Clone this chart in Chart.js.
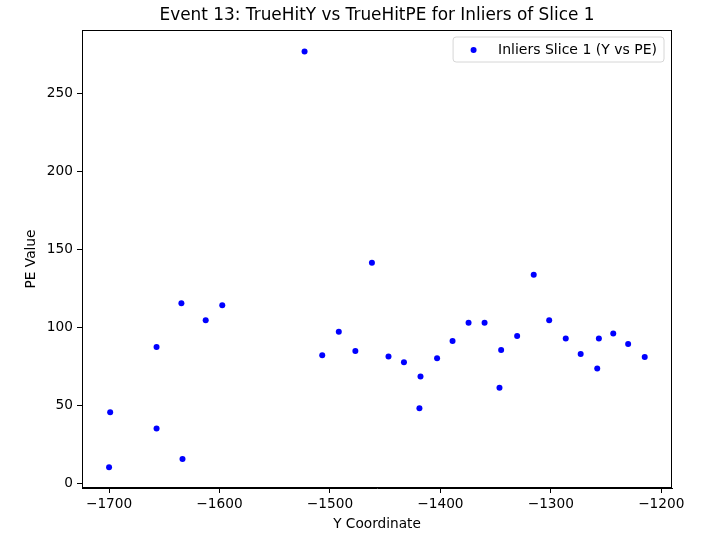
<!DOCTYPE html>
<html>
<head>
<meta charset="utf-8">
<script src="https://cdn.jsdelivr.net/npm/chart.js@4"></script>
<style>
  html, body { margin: 0; padding: 0; background: #fff; }
  #wrap { width: 706px; height: 535px; }
</style>
</head>
<body>
<div id="wrap"><canvas id="peChart" width="706" height="535"></canvas></div>
<script>
// TrueHitY (x) and TrueHitPE (y) for the inliers of slice 1
const hitY = [
    -1700, -1699, -1657, -1657, -1634.5, -1633.5, -1612.5, -1597.5,
    -1523, -1507, -1492, -1477, -1462,
    -1447, -1433, -1418, -1419, -1403, -1389, -1374.5, -1360,
    -1345, -1346.5, -1330.5, -1315.5, -1301.5, -1286.5, -1273,
    -1258, -1256.5, -1243.5, -1230, -1215
];
const hitPE = [
    10.6, 45.8, 87.6, 35.5, 115.7, 15.9, 104.7, 114.3,
    276.7, 82.3, 97.4, 85, 141.6,
    81.6, 77.8, 68.8, 48.5, 80.5, 91.4, 103.2, 103.2,
    85.7, 61.6, 94.6, 133.9, 104.7, 93, 83.1,
    73.9, 93, 96.2, 89.5, 81.2
];
const xTicks = [-1700, -1600, -1500, -1400, -1300, -1200];
const yTicks = [0, 50, 100, 150, 200, 250];

const TITLE = 'Event 13: TrueHitY vs TrueHitPE for Inliers of Slice 1';
const FONT = 'DejaVu Sans, sans-serif';
const minus = v => String(v).replace('-', '\u2212');

// title over the plot area, axes frame, legend box in the top right corner
const framePlugin = {
    id: 'frame',
    afterDraw(chart) {
        const { ctx, chartArea: a } = chart;
        ctx.save();
        ctx.fillStyle = '#000';
        ctx.font = '16.9px ' + FONT;
        ctx.textAlign = 'center';
        ctx.textBaseline = 'middle';
        ctx.fillText(TITLE, (a.left + a.right) / 2, 16);

        ctx.strokeStyle = '#000';
        ctx.lineWidth = 1;
        ctx.strokeRect(a.left + 0.5, a.top + 0.5, a.right - a.left - 1, a.bottom - a.top - 1);

        const label = chart.data.datasets[0].label;
        ctx.font = '14px ' + FONT;
        ctx.textAlign = 'left';
        const tw = ctx.measureText(label).width;
        const bx2 = a.right - 8, by = a.top + 7, bh = 25;
        const bx = bx2 - tw - 52;
        ctx.beginPath();
        ctx.roundRect(bx, by, bx2 - bx, bh, 3);
        ctx.fillStyle = 'rgba(255,255,255,0.8)';
        ctx.fill();
        ctx.strokeStyle = '#d6d6d6';
        ctx.stroke();
        ctx.beginPath();
        ctx.arc(bx + 20.5, by + 13, 3, 0, Math.PI * 2);
        ctx.fillStyle = 'blue';
        ctx.fill();
        ctx.fillStyle = '#000';
        ctx.fillText(label, bx + 45, by + 13);
        ctx.restore();
    }
};

const ctx = document.getElementById('peChart');
new Chart(ctx, {
    type: 'scatter',
    data: {
        datasets: [{
            label: 'Inliers Slice 1 (Y vs PE)',
            data: hitY.map((y, i) => ({ x: y, y: hitPE[i] })),
            backgroundColor: 'blue',
            borderWidth: 0,
            pointRadius: 3
        }]
    },
    options: {
        responsive: false,
        animation: false,
        layout: { padding: { left: 0, right: 34, top: 30, bottom: 0 } },
        plugins: {
            legend: { display: false },
            tooltip: { enabled: false },
            title: { display: false }
        },
        scales: {
            x: {
                type: 'linear',
                min: -1724.5,
                max: -1190.3,
                afterFit: s => { s.height = 47; },
                afterBuildTicks: s => { s.ticks = xTicks.map(v => ({ value: v })); },
                grid: { drawOnChartArea: false, drawTicks: true, tickLength: 5, color: '#000' },
                border: { display: true, color: '#000' },
                ticks: {
                    color: '#000',
                    padding: 3,
                    maxRotation: 0,
                    font: { family: FONT, size: 13.7 },
                    callback: v => minus(v)
                },
                title: {
                    display: true,
                    text: 'Y Coordinate',
                    color: '#000',
                    font: { family: FONT, size: 13.7 },
                    padding: { top: 0, bottom: 2 }
                }
            },
            y: {
                type: 'linear',
                min: -2.6,
                max: 290.5,
                afterFit: s => { s.width = 82; },
                afterBuildTicks: s => { s.ticks = yTicks.map(v => ({ value: v })); },
                grid: { drawOnChartArea: false, drawTicks: true, tickLength: 5, color: '#000' },
                border: { display: true, color: '#000' },
                ticks: {
                    color: '#000',
                    padding: 4,
                    font: { family: FONT, size: 13.7 },
                    callback: v => minus(v)
                },
                title: {
                    display: true,
                    text: 'PE Value',
                    color: '#000',
                    font: { family: FONT, size: 13.7 },
                    padding: { top: 23, bottom: 0 }
                }
            }
        }
    },
    plugins: [framePlugin]
});
</script>
</body>
</html>
